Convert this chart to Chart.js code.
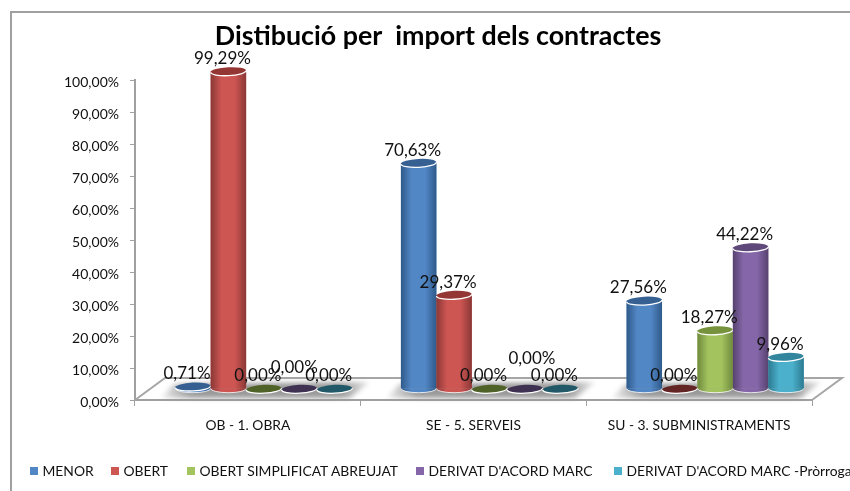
<!DOCTYPE html>
<html>
<head>
<meta charset="utf-8">
<title>Distibució per import dels contractes</title>
<script src="https://cdn.jsdelivr.net/npm/chart.js@4"></script>
<style>
  html, body { margin: 0; padding: 0; background: #fff; overflow: hidden; }
  #wrap { position: relative; width: 850px; height: 491px; overflow: hidden; }
  #frame { position: absolute; left: 10px; top: 11px; right: -5px; bottom: -5px; border-left: 2px solid #a0a0a0; border-top: 2px solid #a0a0a0; }
  #grafic { position: absolute; left: 0; top: 0; }
  #llegenda div { position: absolute; top: 462px; display: flex; align-items: center; white-space: nowrap; font: 13.85px Lato, sans-serif; color: #111; }
  #llegenda i { display: block; width: 8px; height: 8px; margin-right: 4.5px; }
</style>
</head>
<body>
<div id="wrap">
  <div id="frame"></div>
  <canvas id="grafic" width="850" height="491"></canvas>
  <div id="llegenda"></div>
</div>
<script>
const categories = ["OB - 1. OBRA", "SE - 5. SERVEIS", "SU - 3. SUBMINISTRAMENTS"];
const menor = [0.71, 70.63, 27.56];
const obert = [99.29, 29.37, 0];
const obertSimplificat = [0, 0, 18.27];
const derivat = [0, 0, 44.22];
const derivatProrroga = [0, 0, 9.96];
const yTicks = [0, 10, 20, 30, 40, 50, 60, 70, 80, 90, 100];

// colors: cos, vora fosca, tapa, tapa quan el valor es zero
const colors = [
  ["#5287c6", "#2f5a8a", "#366092", "#376092"],
  ["#cd5552", "#8a3836", "#943634", "#632523"],
  ["#a3c35e", "#6f8a3d", "#76923c", "#4f6228"],
  ["#8567a9", "#57426f", "#5f497a", "#3f3151"],
  ["#4bb0cc", "#2c7a90", "#31859c", "#215968"]
];

// desplacament del 3D respecte a l'eix
const dx = 16;
const dy = -11;

// etiquetes que Excel va moure a ma: "serie,categoria": [x, y]
const labelNudge = { "3,0": [1, -8], "3,1": [13, -17] };

// on comenca cada entrada de la llegenda
const legendLeft = [30, 111, 187, 416, 614];

function fmt(v) {
  return v.toFixed(2).replace(".", ",") + "%";
}

function drawFloor(chart) {
  const ctx = chart.ctx;
  const a = chart.chartArea;
  const x = chart.scales.x;

  ctx.save();
  ctx.strokeStyle = "#a6a6a6";
  ctx.lineWidth = 2;
  ctx.beginPath();
  ctx.moveTo(a.left, a.bottom);
  ctx.lineTo(a.left + 30, a.bottom - 22);
  ctx.lineTo(a.right + 30, a.bottom - 22);
  ctx.lineTo(a.right, a.bottom);
  ctx.stroke();

  // ombra sota cada grup
  ctx.filter = "blur(2.5px)";
  categories.forEach((c, i) => {
    const cx = x.getPixelForValue(i) + dx;
    const g = ctx.createLinearGradient(cx - 100, 0, cx + 105, 0);
    g.addColorStop(0, "rgba(140,140,140,0.2)");
    g.addColorStop(0.14, "#999");
    g.addColorStop(0.86, "#999");
    g.addColorStop(1, "rgba(140,140,140,0.2)");
    ctx.fillStyle = g;
    ctx.beginPath();
    ctx.moveTo(cx - 103, a.bottom - 2);
    ctx.lineTo(cx - 90, a.bottom - 16);
    ctx.lineTo(cx + 106, a.bottom - 18);
    ctx.lineTo(cx + 86, a.bottom - 2);
    ctx.fill();
  });
  ctx.restore();
}

function drawCylinders(chart) {
  const ctx = chart.ctx;
  chart.data.datasets.forEach((ds, s) => {
    const c = colors[s];
    chart.getDatasetMeta(s).data.forEach((bar, i) => {
      const rx = bar.width / 2;
      const ry = 4.2;
      const left = bar.x - rx;
      const g = ctx.createLinearGradient(left, 0, left + bar.width, 0);
      g.addColorStop(0, c[1]);
      g.addColorStop(0.3, c[0]);
      g.addColorStop(0.68, c[0]);
      g.addColorStop(1, c[1]);

      if (ds.data[i] > 0) {
        // cos i corba de la base
        ctx.fillStyle = g;
        ctx.fillRect(left, bar.y, bar.width, bar.base - bar.y);
        ctx.beginPath();
        ctx.ellipse(bar.x, bar.base, rx, ry, 0, 0, Math.PI);
        ctx.fill();
        ctx.strokeStyle = "rgba(255,255,255,0.8)";
        ctx.lineWidth = 1;
        ctx.stroke();
      }

      // tapa
      ctx.fillStyle = ds.data[i] > 0 ? c[2] : c[3];
      ctx.beginPath();
      ctx.ellipse(bar.x, bar.y, rx, ry, -0.05, 0, Math.PI * 2);
      ctx.fill();
      ctx.strokeStyle = "#fff";
      ctx.lineWidth = 1.3;
      ctx.beginPath();
      ctx.ellipse(bar.x, bar.y, rx, ry, -0.05, 0, Math.PI);
      ctx.stroke();
    });
  });
}

function drawLabels(chart) {
  const ctx = chart.ctx;
  ctx.font = "17px Lato, sans-serif";
  ctx.fillStyle = "#111";
  ctx.textAlign = "center";
  ctx.textBaseline = "middle";
  chart.data.datasets.forEach((ds, s) => {
    chart.getDatasetMeta(s).data.forEach((bar, i) => {
      const n = labelNudge[s + "," + i] || [0, 0];
      ctx.fillText(fmt(ds.data[i]), bar.x - 6 + n[0], bar.y - 13 + n[1]);
    });
  });
}

// el pla del terra i els cilindres es dibuixen sobre les barres de Chart.js
const cylinderPlugin = {
  id: "cylinders",
  beforeDatasetsDraw(chart) {
    drawFloor(chart);
    chart.ctx.save();
    chart.ctx.translate(dx, dy);
  },
  afterDatasetsDraw(chart) {
    drawCylinders(chart);
    drawLabels(chart);
    chart.ctx.restore();
  }
};

const names = ["MENOR", "OBERT", "OBERT SIMPLIFICAT ABREUJAT", "DERIVAT D'ACORD MARC", "DERIVAT D'ACORD MARC -Pròrroga"];
const series = [menor, obert, obertSimplificat, derivat, derivatProrroga];

const chart = new Chart(document.getElementById("grafic"), {
  type: "bar",
  data: {
    labels: categories,
    datasets: series.map((values, s) => ({
      label: names[s],
      data: values,
      backgroundColor: colors[s][0],
      categoryPercentage: 0.785,
      barPercentage: 1,
      clip: false
    }))
  },
  options: {
    responsive: false,
    animation: false,
    layout: { padding: { left: 64, right: 38, top: 20, bottom: 61 } },
    plugins: {
      legend: { display: false },
      tooltip: { enabled: false },
      title: {
        display: true,
        text: "Distibució per  import dels contractes",
        color: "#000",
        font: { family: "Lato, sans-serif", size: 26.8, weight: "bold" },
        padding: { top: 0, bottom: 28 }
      }
    },
    scales: {
      x: {
        afterFit(scale) { scale.height = 30; },
        grid: { drawOnChartArea: false, color: "#a0a0a0", tickLength: 6 },
        border: { color: "#a0a0a0", width: 2 },
        ticks: { color: "#111", padding: 11, maxRotation: 0, font: { family: "Lato, sans-serif", size: 13.8 } }
      },
      y: {
        min: 0,
        max: 100,
        afterFit(scale) { scale.width = 71; },
        afterBuildTicks(scale) { scale.ticks = yTicks.map((v) => ({ value: v })); },
        grid: { drawOnChartArea: false, color: "#a0a0a0", tickLength: 5 },
        border: { color: "#a0a0a0", width: 2 },
        ticks: {
          color: "#111",
          padding: 11,
          labelOffset: 2,
          font: { family: "Lato, sans-serif", size: 14 },
          callback: (v) => fmt(v)
        }
      }
    }
  },
  plugins: [cylinderPlugin]
});

// llegenda, tallada per la dreta com a l'original
const legend = document.getElementById("llegenda");
chart.data.datasets.forEach((ds, s) => {
  const item = document.createElement("div");
  item.style.left = legendLeft[s] + "px";
  item.innerHTML = `<i style="background:${ds.backgroundColor}"></i><span>${ds.label}</span>`;
  legend.appendChild(item);
});
</script>
</body>
</html>
